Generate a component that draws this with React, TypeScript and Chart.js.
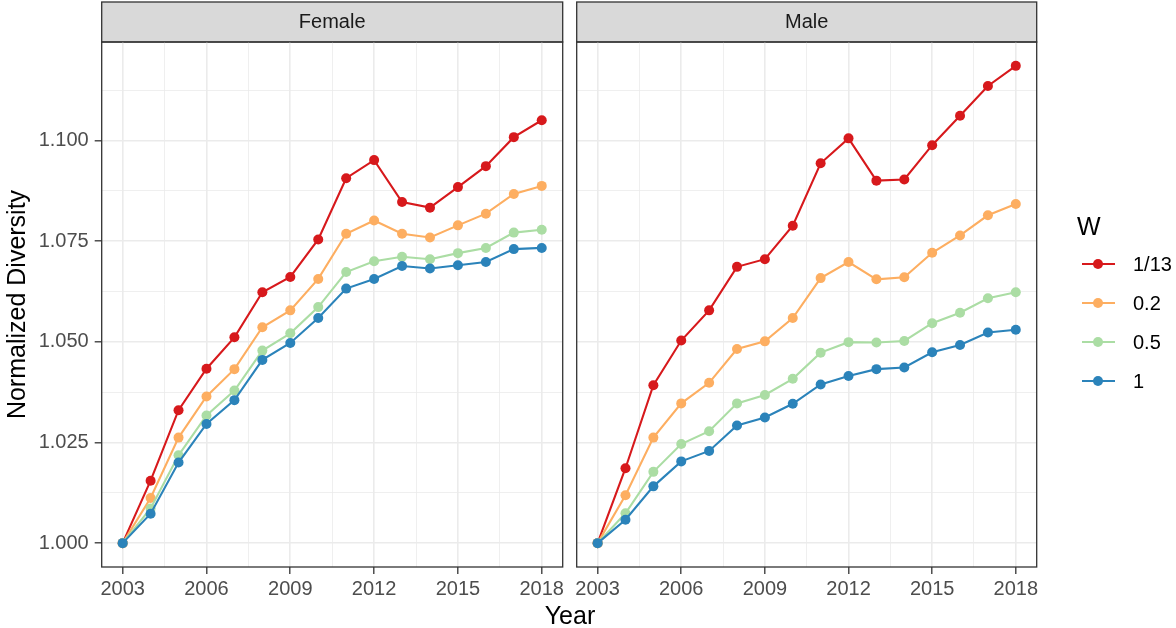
import React, { useEffect, useRef } from "react";
import { Chart, registerables } from "chart.js";

Chart.register(...registerables);

// ---------- data ----------
const years = [2003, 2004, 2005, 2006, 2007, 2008, 2009, 2010, 2011, 2012, 2013, 2014, 2015, 2016, 2017, 2018];

const seriesLabels = ["1/13", "0.2", "0.5", "1"];
const seriesColors = ["#D7191C", "#FDAE61", "#ABDDA4", "#2B83BA"];

const femaleW13 = [1.0, 1.0155, 1.033, 1.0433, 1.0511, 1.0623, 1.0661, 1.0754, 1.0906, 1.0951, 1.0847, 1.0833, 1.0884, 1.0936, 1.1008, 1.105];
const femaleW02 = [1.0, 1.0112, 1.0262, 1.0364, 1.0432, 1.0536, 1.0578, 1.0656, 1.0768, 1.0801, 1.0768, 1.0759, 1.0789, 1.0818, 1.0867, 1.0887];
const femaleW05 = [1.0, 1.0086, 1.0218, 1.0317, 1.0379, 1.0478, 1.0521, 1.0586, 1.0673, 1.07, 1.0711, 1.0705, 1.072, 1.0733, 1.0771, 1.0778];
const femaleW1 = [1.0, 1.0073, 1.02, 1.0296, 1.0355, 1.0455, 1.0497, 1.0559, 1.0632, 1.0656, 1.0688, 1.0682, 1.069, 1.0698, 1.073, 1.0733];

const maleW13 = [1.0, 1.0186, 1.0392, 1.0503, 1.0578, 1.0686, 1.0705, 1.0788, 1.0943, 1.1005, 1.09, 1.0903, 1.0988, 1.1061, 1.1135, 1.1185];
const maleW02 = [1.0, 1.0119, 1.0262, 1.0347, 1.0398, 1.0482, 1.0501, 1.0559, 1.0658, 1.0698, 1.0655, 1.066, 1.0721, 1.0764, 1.0814, 1.0842];
const maleW05 = [1.0, 1.0074, 1.0177, 1.0246, 1.0278, 1.0347, 1.0368, 1.0408, 1.0473, 1.0499, 1.0498, 1.0502, 1.0546, 1.0572, 1.0608, 1.0623];
const maleW1 = [1.0, 1.0058, 1.0141, 1.0203, 1.0229, 1.0292, 1.0312, 1.0346, 1.0394, 1.0415, 1.0432, 1.0436, 1.0474, 1.0492, 1.0523, 1.053];

const xMajorTicks = [2003, 2006, 2009, 2012, 2015, 2018];
const xMinorTicks = [2004.5, 2007.5, 2010.5, 2013.5, 2016.5];
const xTickLabels = ["2003", "2006", "2009", "2012", "2015", "2018"];
const yMajorTicks = [1.0, 1.025, 1.05, 1.075, 1.1];
const yMinorTicks = [1.0125, 1.0375, 1.0625, 1.0875, 1.1125];
const yTickLabels = ["1.000", "1.025", "1.050", "1.075", "1.100"];

const xMin = 2002.25;
const xMax = 2018.75;
const yMin = 0.994075;
const yMax = 1.124425;

const panelTitles = ["Female", "Male"];
const legendTitle = "W";
const xAxisTitle = "Year";
const yAxisTitle = "Normalized Diversity";

// ---------- styles ----------
const FONT = "'Liberation Sans', Arial, Helvetica, sans-serif";
const W = 1176;
const H = 628;
const PANEL_BOTTOM = 567;
const LEFT_PANEL = { left: 101.7, right: 562.7 };
const RIGHT_PANEL = { left: 576.7, right: 1036.7 };
const SPLIT = 570;

const near = (a: number, b: number) => Math.abs(a - b) < 1e-7;
const labelFor = (v: number, majors: number[], labels: string[]) => {
  const i = majors.findIndex((m) => near(m, v));
  return i >= 0 ? labels[i] : "";
};
const isMajor = (v: number, majors: number[]) => majors.some((m) => near(m, v));

const panelPlugin = {
  id: "ggPanel",
  beforeDraw(chart: any) {
    const { ctx, chartArea: a } = chart;
    ctx.save();
    ctx.fillStyle = "#D9D9D9";
    ctx.fillRect(a.left, 2, a.right - a.left, a.top - 2);
    ctx.strokeStyle = "#333333";
    ctx.lineWidth = 1.3;
    ctx.strokeRect(a.left, 2, a.right - a.left, a.top - 2);
    ctx.restore();
  },
  afterDraw(chart: any) {
    const { ctx, chartArea: a } = chart;
    ctx.save();
    ctx.strokeStyle = "#333333";
    ctx.lineWidth = 1.3;
    ctx.strokeRect(a.left, a.top, a.right - a.left, a.bottom - a.top);
    ctx.restore();
  },
};

function buildConfig(isLeft: boolean, title: string, values: number[][], canvasWidth: number, area: { left: number; right: number }, offsetX: number): any {
  const datasets = seriesLabels.map((lab, i) => ({
    label: lab,
    data: years.map((yr, j) => ({ x: yr, y: values[i][j] })),
    borderColor: seriesColors[i],
    backgroundColor: seriesColors[i],
    pointBackgroundColor: seriesColors[i],
    pointBorderColor: seriesColors[i],
    pointBorderWidth: 0,
    pointRadius: 5,
    pointHoverRadius: 5,
    borderWidth: 2.1,
    tension: 0,
    order: seriesLabels.length - 1 - i,
  }));

  const yAxisWidth = area.left - offsetX;
  const rightPad = offsetX + canvasWidth - area.right;

  return {
    type: "line",
    data: { datasets },
    plugins: [panelPlugin],
    options: {
      animation: false,
      responsive: false,
      maintainAspectRatio: false,
      devicePixelRatio: 1,
      events: [],
      layout: { padding: { left: 0, right: rightPad, top: 2, bottom: 0 } },
      plugins: {
        legend: { display: false },
        tooltip: { enabled: false },
        title: {
          display: true,
          text: title,
          fullSize: false,
          align: "center",
          padding: { top: 8, bottom: 8 },
          color: "#1A1A1A",
          font: { family: FONT, size: 20, weight: "normal", lineHeight: 1.2 },
        },
      },
      scales: {
        x: {
          type: "linear",
          min: xMin,
          max: xMax,
          afterBuildTicks: (s: any) => {
            s.ticks = [...xMajorTicks, ...xMinorTicks].sort((a, b) => a - b).map((v) => ({ value: v }));
          },
          afterFit: (s: any) => {
            s.height = H - PANEL_BOTTOM;
            s.paddingLeft = 0;
            s.paddingRight = 0;
          },
          border: { display: false },
          grid: {
            color: "#EBEBEB",
            lineWidth: (c: any) => (c.tick && isMajor(c.tick.value, xMajorTicks) ? 1.6 : 0.8),
            tickColor: (c: any) => (c.tick && isMajor(c.tick.value, xMajorTicks) ? "#333333" : "rgba(0,0,0,0)"),
            tickWidth: 1.3,
            tickLength: 7,
            drawTicks: true,
            drawOnChartArea: true,
          },
          ticks: {
            autoSkip: false,
            maxRotation: 0,
            minRotation: 0,
            padding: 3,
            color: "#4D4D4D",
            font: { family: FONT, size: 20 },
            callback: (v: number) => labelFor(v, xMajorTicks, xTickLabels),
          },
        },
        y: {
          type: "linear",
          min: yMin,
          max: yMax,
          afterBuildTicks: (s: any) => {
            s.ticks = [...yMajorTicks, ...yMinorTicks].sort((a, b) => a - b).map((v) => ({ value: v }));
          },
          afterFit: (s: any) => {
            s.width = yAxisWidth;
            s.paddingTop = 0;
            s.paddingBottom = 0;
          },
          border: { display: false },
          title: {
            display: isLeft,
            text: yAxisTitle,
            color: "#000000",
            padding: { top: 3, bottom: 0 },
            font: { family: FONT, size: 25, lineHeight: 1.2 },
          },
          grid: {
            color: "#EBEBEB",
            lineWidth: (c: any) => (c.tick && isMajor(c.tick.value, yMajorTicks) ? 1.6 : 0.8),
            tickColor: (c: any) =>
              isLeft && c.tick && isMajor(c.tick.value, yMajorTicks) ? "#333333" : "rgba(0,0,0,0)",
            tickWidth: 1.3,
            tickLength: isLeft ? 7 : 0,
            drawTicks: isLeft,
            drawOnChartArea: true,
          },
          ticks: {
            display: isLeft,
            autoSkip: false,
            padding: 6,
            color: "#4D4D4D",
            font: { family: FONT, size: 20 },
            callback: (v: number) => labelFor(v, yMajorTicks, yTickLabels),
          },
        },
      },
    },
  };
}

function Panel(props: { isLeft: boolean; title: string; values: number[][]; x: number; width: number; area: { left: number; right: number } }) {
  const ref = useRef<HTMLCanvasElement | null>(null);
  useEffect(() => {
    if (!ref.current) return;
    const chart = new Chart(ref.current, buildConfig(props.isLeft, props.title, props.values, props.width, props.area, props.x));
    return () => chart.destroy();
  }, []);
  return (
    <canvas
      ref={ref}
      width={props.width}
      height={H}
      style={{ position: "absolute", left: props.x, top: 0, width: props.width, height: H }}
    />
  );
}

const LEGEND_KEY_X = 1081.7;
const LEGEND_KEY_W = 33.3;
const LEGEND_FIRST_Y = 264.3;
const LEGEND_STEP = 39;
const LEGEND_LABEL_X = 1133;

export default function App() {
  return (
    <div
      style={{
        position: "fixed",
        left: 0,
        top: 0,
        width: W,
        height: H,
        background: "#FFFFFF",
        overflow: "hidden",
        fontFamily: FONT,
      }}
    >
      <Panel isLeft={true} title={panelTitles[0]} values={[femaleW13, femaleW02, femaleW05, femaleW1]} x={0} width={SPLIT} area={LEFT_PANEL} />
      <Panel isLeft={false} title={panelTitles[1]} values={[maleW13, maleW02, maleW05, maleW1]} x={SPLIT} width={W - SPLIT} area={RIGHT_PANEL} />

      <div
        style={{
          position: "absolute",
          left: 0,
          width: 1140,
          top: 600,
          textAlign: "center",
          fontSize: 25,
          lineHeight: "30px",
          color: "#000000",
        }}
      >
        {xAxisTitle}
      </div>

      <div
        style={{
          position: "absolute",
          left: 1077,
          top: 211,
          fontSize: 25,
          lineHeight: "30px",
          color: "#000000",
        }}
      >
        {legendTitle}
      </div>

      {seriesLabels.map((lab, i) => {
        const cy = LEGEND_FIRST_Y + i * LEGEND_STEP;
        return (
          <React.Fragment key={lab}>
            <div
              style={{
                position: "absolute",
                left: LEGEND_KEY_X,
                top: cy - 1,
                width: LEGEND_KEY_W,
                height: 2,
                background: seriesColors[i],
              }}
            />
            <div
              style={{
                position: "absolute",
                left: LEGEND_KEY_X + LEGEND_KEY_W / 2 - 5,
                top: cy - 5,
                width: 10,
                height: 10,
                borderRadius: "50%",
                background: seriesColors[i],
              }}
            />
            <div
              style={{
                position: "absolute",
                left: LEGEND_LABEL_X,
                top: cy - 12,
                fontSize: 20,
                lineHeight: "24px",
                color: "#000000",
              }}
            >
              {lab}
            </div>
          </React.Fragment>
        );
      })}
    </div>
  );
}
